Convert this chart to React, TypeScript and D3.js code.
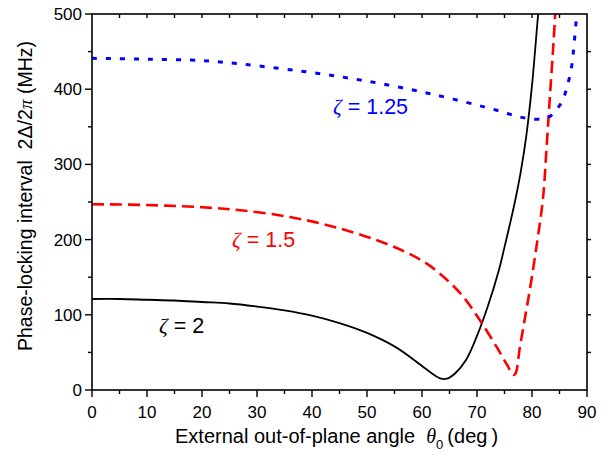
import React from "react";
import * as d3 from "d3";

const W = 610, H = 459;
const M = { left: 92, right: 587, top: 14, bottom: 390 };

const xTicks = [0, 10, 20, 30, 40, 50, 60, 70, 80, 90];
const yTicks = [0, 100, 200, 300, 400, 500];

// zeta = 2 (black, solid)
const blackTheta = [0, 5, 10, 15, 20, 25, 30, 35, 40, 45, 50, 55, 58, 60, 62, 63.5, 64.5, 66, 68, 70, 72, 74, 75, 76, 77, 78, 79, 80, 81, 81.3];
const blackVal = [121, 121, 120, 119, 117, 115, 111, 106, 99, 89, 76, 58, 43, 32, 21, 15, 15, 22, 40, 72, 112, 160, 190, 221, 254, 292, 340, 405, 490, 515];

// zeta = 1.5 (red, dashed)
const redTheta = [0, 10, 20, 27, 36, 45, 54, 60, 64, 67.5, 70.5, 73.6, 75.5, 76.6, 77, 77.8, 78.7, 79.6, 80.9, 82, 82.7, 83.3, 83.9, 84.3];
const redVal = [247, 246, 243, 239, 230, 215, 193, 172, 150, 124, 93, 57, 33, 20, 22, 57, 95, 133, 195, 255, 328, 395, 461, 510];

// zeta = 1.25 (blue, dotted)
const blueTheta = [0, 10, 20, 25, 37, 49, 61.5, 73.6, 77.8, 80.5, 82, 83.3, 85.4, 86.3, 87.2, 87.6, 88.1, 88.3];
const blueVal = [441, 440, 438, 435, 425, 412, 394, 372, 363, 360, 361, 364, 383, 401, 430, 456, 496, 510];

export default function App() {
  const x = d3.scaleLinear().domain([0, 90]).range([M.left, M.right]);
  const y = d3.scaleLinear().domain([0, 500]).range([M.bottom, M.top]);
  const line = d3
    .line<[number, number]>()
    .x((d) => x(d[0]))
    .y((d) => y(d[1]))
    .curve(d3.curveCatmullRom.alpha(0.5));
  const zip = (a: number[], b: number[]) => a.map((v, i) => [v, b[i]] as [number, number]);

  const xMinor = d3.range(5, 90, 10);
  const yMinor = d3.range(50, 500, 100);
  const topTicks = d3.range(5, 90, 5);
  const rightTicks = d3.range(50, 500, 50);
  const font = "'Liberation Sans', Arial, Helvetica, sans-serif";
  const serif = "'Liberation Serif', 'Times New Roman', serif";

  return (
    <svg width={W} height={H} style={{ position: "absolute", left: 0, top: 0, background: "#fff" }} fontFamily={font}>
      <defs>
        <clipPath id="plotclip">
          <rect x={M.left} y={M.top} width={M.right - M.left} height={M.bottom - M.top} />
        </clipPath>
      </defs>
      <g clipPath="url(#plotclip)" fill="none">
        <path d={line(zip(blackTheta, blackVal)) || ""} stroke="#000" strokeWidth={1.8} />
        <path d={line(zip(redTheta, redVal)) || ""} stroke="#ff0000" strokeWidth={2.6} strokeDasharray="12,6" />
        <path d={line(zip(blueTheta, blueVal)) || ""} stroke="#0000ff" strokeWidth={3} strokeDasharray="5,9" />
      </g>
      <rect x={M.left} y={M.top} width={M.right - M.left} height={M.bottom - M.top} fill="none" stroke="#000" strokeWidth={1.6} />
      {xTicks.map((t) => (
        <g key={"xt" + t}>
          <line x1={x(t)} x2={x(t)} y1={M.bottom} y2={M.bottom + 7} stroke="#000" strokeWidth={1.4} />
          <text x={x(t)} y={418} textAnchor="middle" fontSize={17}>{t}</text>
        </g>
      ))}
      {xMinor.map((t) => (
        <line key={"xm" + t} x1={x(t)} x2={x(t)} y1={M.bottom} y2={M.bottom + 4} stroke="#000" strokeWidth={1.4} />
      ))}
      {topTicks.map((t) => (
        <line key={"tt" + t} x1={x(t)} x2={x(t)} y1={M.top} y2={M.top + 4} stroke="#000" strokeWidth={1.4} />
      ))}
      {yTicks.map((t) => (
        <g key={"yt" + t}>
          <line x1={M.left - 7} x2={M.left} y1={y(t)} y2={y(t)} stroke="#000" strokeWidth={1.4} />
          <text x={M.left - 10} y={y(t) + 6} textAnchor="end" fontSize={17}>{t}</text>
        </g>
      ))}
      {yMinor.map((t) => (
        <line key={"ym" + t} x1={M.left - 4} x2={M.left} y1={y(t)} y2={y(t)} stroke="#000" strokeWidth={1.4} />
      ))}
      {rightTicks.map((t) => (
        <line key={"rt" + t} x1={M.right} x2={M.right + 4} y1={y(t)} y2={y(t)} stroke="#000" strokeWidth={1.4} />
      ))}
      <text x={175} y={443} fontSize={20}>
        External out-of-plane angle{"\u00a0\u00a0"}
        <tspan fontFamily={serif} fontStyle="italic">θ</tspan>
        <tspan fontSize={13} dy={6}>0</tspan>
        <tspan dy={-6}>{"\u2009"}(deg{"\u2009"})</tspan>
      </text>
      <text transform={`translate(32,196) rotate(-90)`} textAnchor="middle" fontSize={19.5}>
        Phase-locking interval{"\u00a0\u00a0"}2Δ/2<tspan fontFamily={serif} fontStyle="italic">π</tspan> (MHz)
      </text>
      <text x={333} y={114} fontSize={21.5} fill="#0000ff">
        <tspan fontFamily={serif} fontStyle="italic">ζ</tspan> = 1.25
      </text>
      <text x={232} y={247} fontSize={21.5} fill="#ff0000">
        <tspan fontFamily={serif} fontStyle="italic">ζ</tspan> = 1.5
      </text>
      <text x={159} y={333} fontSize={21.5} fill="#000">
        <tspan fontFamily={serif} fontStyle="italic">ζ</tspan> = 2
      </text>
    </svg>
  );
}
